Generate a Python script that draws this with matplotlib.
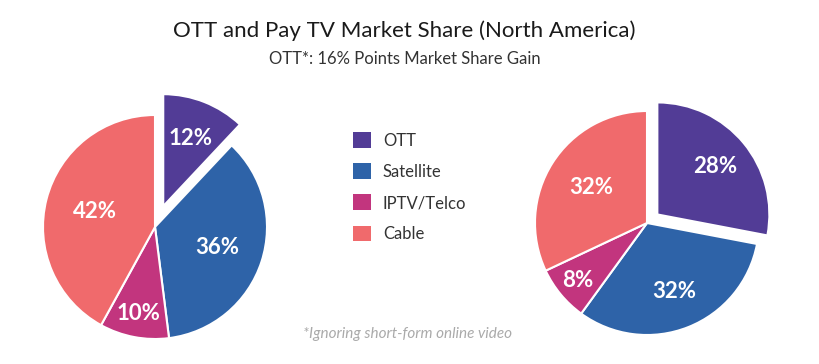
import matplotlib
matplotlib.use("Agg")
import matplotlib.pyplot as plt
import numpy as np

categories = ["OTT", "Satellite", "IPTV/Telco", "Cable"]
left_values = [12, 36, 10, 42]
right_values = [28, 32, 8, 32]
colors = ["#523C96", "#2E63A8", "#C2357E", "#F06A6C"]
title = "OTT and Pay TV Market Share (North America)"
subtitle = "OTT*: 16% Points Market Share Gain"
footnote = "*Ignoring short-form online video"

plt.rcParams['font.family'] = ['Lato', 'DejaVu Sans']

W, H = 820, 364
fig = plt.figure(figsize=(W / 100, H / 100), dpi=100)

R = 110  # pixel radius


def make_ax(cx, cy, size=280):
    ax = fig.add_axes([(cx - size / 2) / W, 1 - (cy + size / 2) / H, size / W, size / H])
    lim = size / 2 / R
    ax.set_xlim(-lim, lim)
    ax.set_ylim(-lim, lim)
    ax.set_aspect('equal')
    ax.axis('off')
    return ax


def draw_pie(ax, values, explode, dists):
    wedges, _ = ax.pie(values, colors=colors, startangle=90, counterclock=False,
                       explode=explode, radius=1.0,
                       wedgeprops=dict(edgecolor='white', linewidth=1.5))
    for w, v, d in zip(wedges, values, dists):
        ang = np.deg2rad((w.theta1 + w.theta2) / 2)
        cx, cy = w.center
        ax.text(cx + d * np.cos(ang), cy + d * np.sin(ang), f"{v}%",
                ha='center', va='center', color='white', fontsize=16,
                fontweight='bold')
    return wedges


axL = make_ax(155, 227)
wedges = draw_pie(axL, left_values, [0.2, 0, 0, 0], [0.65, 0.58, 0.79, 0.55])

axR = make_ax(647, 223)
draw_pie(axR, right_values, [0.12, 0, 0, 0], [0.67, 0.66, 0.8, 0.59])

fig.text(404 / W, 1 - 31 / H, title, ha='center', va='center', fontsize=16,
         color='#1a1a1a')
fig.text(405 / W, 1 - 59 / H, subtitle, ha='center', va='center', fontsize=12,
         color='#333333')
fig.text(408 / W, 1 - 334 / H, footnote, ha='center', va='center', fontsize=11,
         color='#aaaaaa', style='italic')

leg = fig.legend(wedges, categories, loc='upper left',
                 bbox_to_anchor=(345 / W, 1 - 124 / H), frameon=False,
                 fontsize=12, handlelength=1.08, handleheight=1.08,
                 labelspacing=0.87, handletextpad=0.7, borderpad=0)
for t in leg.get_texts():
    t.set_color('#333333')
for h in leg.legend_handles:
    h.set_edgecolor('none')

fig.savefig("out.png", dpi=100)
